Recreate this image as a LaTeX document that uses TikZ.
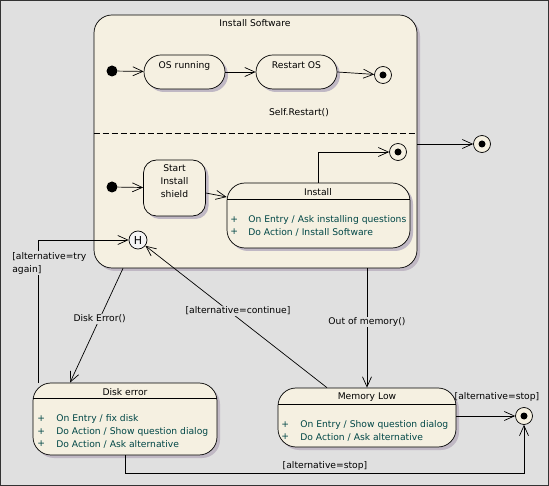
\documentclass[tikz,border=0pt]{standalone}
\usepackage{fontspec}
\setmainfont{DejaVu Sans}
\usetikzlibrary{arrows.meta,shadows}
\definecolor{bgc}{HTML}{E0E0E0}
\definecolor{beige}{HTML}{F5F0E1}
\definecolor{shadc}{HTML}{C0B8C4}
\definecolor{itemc}{HTML}{004646}
\definecolor{histc}{HTML}{F4F4F4}
\begin{document}
\begin{tikzpicture}[x=1pt,y=-1pt,
  font=\fontsize{9.2}{11}\selectfont,
  line width=0.7pt,
  shad/.style={general shadow={fill=shadc, shadow xshift=3pt, shadow yshift=-3pt}},
  comp/.style={draw, fill=beige, shad, rounded corners=18pt, inner sep=0pt},
  simple/.style={draw, fill=beige, shad, rounded corners=17pt, inner sep=0pt,
     minimum width=81pt, minimum height=34pt, text height=7pt, text depth=14pt},
  initst/.style={circle, fill=black, minimum size=11pt, inner sep=0pt},
  finalst/.style={circle, draw, fill=beige, minimum size=17pt, inner sep=0pt,
     path picture={\fill[black] (path picture bounding box.center) circle (3.5pt);}},
  histst/.style={circle, draw, fill=histc, minimum size=18pt, inner sep=0pt, font=\fontsize{11}{12}\selectfont},
  tr/.style={-{Straight Barb[length=10pt,width=9pt]}},
  lbl/.style={fill=bgc, inner sep=1pt},
  itm/.style={anchor=west, text=itemc, inner sep=0pt}
]
\useasboundingbox (0,0) rectangle (549,486);
\path[draw=black!80, fill=bgc, line width=1pt] (0.5,0.5) rectangle (548.5,485.5);

% composite state
\node[comp, minimum width=323pt, minimum height=253pt] (inst) at (255.5,141.5) {};
\node (insttitle) at (255,23) {Install Software};
\draw[dash pattern=on 6pt off 3pt] (inst.west |- 0,133) -- (inst.east |- 0,133);

% upper region
\node[initst] (i1) at (112,71) {};
\node[simple] (osr) at (184.5,72) {OS running};
\node[simple] (ros) at (296.5,72) {Restart OS};
\node[finalst] (f1) at (383,75) {};
\node (selfr) at (299,113) {Self.Restart()};

% lower region
\node[initst] (i2) at (112,187) {};
\node[draw, fill=beige, shad, rounded corners=13pt, minimum width=62pt, minimum height=56pt] (sis) at (174.5,188) {};
\node[align=center, inner sep=0pt, font=\fontsize{9.2}{13}\selectfont] (sistext) at (174.5,181) {Start\\Install\\shield};
\node[comp, minimum width=183pt, minimum height=65pt] (ib) at (318.5,215.5) {};
\node (ibh) at (318,192) {Install};
\draw (ib.west |- 0,199) -- (ib.east |- 0,199);
\node[itm] (ibp1) at (230,220) {+};
\node[itm] (ibt1) at (248,220) {On Entry / Ask installing questions};
\node[itm] (ibp2) at (230,232) {+};
\node[itm] (ibt2) at (248,232) {Do Action / Install Software};
\node[finalst] (f2) at (398,152) {};
\node[histst] (hist) at (138,240) {H};

% outer states
\node[finalst] (f3) at (482,144) {};
\node[comp, minimum width=184pt, minimum height=72pt] (de) at (125,419) {};
\node (deh) at (125,392) {Disk error};
\draw (de.west |- 0,398) -- (de.east |- 0,398);
\node[itm] (dep1) at (37,419) {+};
\node[itm] (det1) at (56,419) {On Entry / fix disk};
\node[itm] (dep2) at (37,432) {+};
\node[itm] (det2) at (56,432) {Do Action / Show question dialog};
\node[itm] (dep3) at (37,444) {+};
\node[itm] (det3) at (56,444) {Do Action / Ask alternative};

\node[comp, minimum width=178pt, minimum height=59pt] (ml) at (367,417.5) {};
\node (mlh) at (367,397) {Memory Low};
\draw (ml.west |- 0,404) -- (ml.east |- 0,404);
\node[itm] (mlp1) at (281,425) {+};
\node[itm] (mlt1) at (300,425) {On Entry / Show question dialog};
\node[itm] (mlp2) at (281,437) {+};
\node[itm] (mlt2) at (300,437) {Do Action / Ask alternative};
\node[finalst] (f4) at (524,416) {};

% transitions
\draw[tr] (i1) -- (osr);
\draw[tr] (osr) -- (ros);
\draw[tr] (ros.east) -- (f1);
\draw[tr] (i2) -- (sis);
\draw[tr] ([yshift=-5pt]sis.east) -- ([yshift=18.5pt]ib.west);
\draw[tr] (ib.north) |- (f2);
\draw[tr] (inst.east |- f3) -- (f3);
\draw[tr] ([xshift=-132.5pt]inst.south) -- ([xshift=-55pt]de.north)
   node[lbl, pos=0.44] (lde) {Disk Error()};
\draw[tr] ([xshift=-87pt]de.north) |- (hist);
\node[lbl, align=left, anchor=north west, font=\fontsize{9.2}{13}\selectfont] (ltry) at (11,251) {[alternative=try\\again]};
\draw[tr] ([xshift=-40pt]ml.north) -- (hist);
\node[lbl] (lcont) at (238,311) {[alternative=continue]};
\draw[tr] (inst.south -| ml.north) -- (ml.north) node[lbl, pos=0.45] (lmem) {Out of memory()};
\draw[tr] (ml.east |- f4) -- (f4);
\node (lstop1) at (497,397) {[alternative=stop]};
\draw[tr] (de.south) -- ++(0,18) -| (f4);
\node (lstop2) at (325,466) {[alternative=stop]};
\end{tikzpicture}
\end{document}
